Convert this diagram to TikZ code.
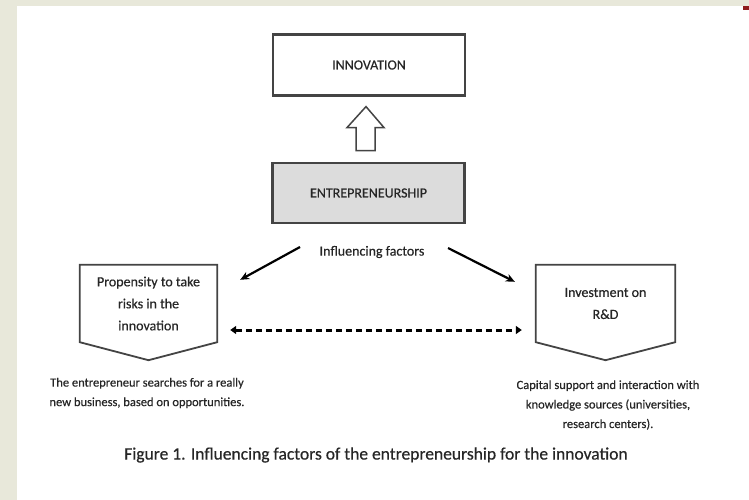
\documentclass[tikz,border=0pt]{standalone}
\usepackage{fontspec}
\setmainfont[FakeBold=0.4]{Carlito}
\usetikzlibrary{arrows.meta,calc}
\definecolor{pagebg}{HTML}{E8E8DA}
\definecolor{boxline}{HTML}{444444}
\definecolor{boxfill}{HTML}{DCDCDC}
\definecolor{inkgray}{HTML}{262626}
\definecolor{markred}{HTML}{8E1B1B}
\tikzset{
  mainbox/.style={draw=boxline,line width=2.2pt,minimum width=192pt,minimum height=61pt,font=\fontsize{14}{16}\selectfont,text=inkgray},
  factorbox/.style={minimum width=137pt,minimum height=77pt,inner sep=0pt,align=center,font=\fontsize{14}{22}\selectfont,text=inkgray},
  pentline/.style={draw=boxline,line width=1.8pt,line join=miter},
  note/.style={align=center,font=\fontsize{12.5}{19.5}\selectfont,text=inkgray},
  factarrow/.style={line width=2.2pt,-{Stealth[length=9pt,width=8pt]}},
  linkarrow/.style={line width=3pt,dash pattern=on 6.5pt off 3.5pt,{Triangle[length=6pt,width=8pt]}-{Triangle[length=6pt,width=8pt]}},
  hollow/.style={draw=boxline,line width=1.5pt,fill=white,line join=miter},
}

\begin{document}
\begin{tikzpicture}[x=1pt,y=-1pt]
  \useasboundingbox (0,0) rectangle (749,500);
  \fill[pagebg] (0,0) rectangle (749,500);
  \fill[white] (17,6) rectangle (749,500);
  \fill[markred] (743,6) rectangle (749,10);

  \node[mainbox] (innov) at (369,65) {INNOVATION};
  \node[mainbox,fill=boxfill,minimum height=60pt] (entre) at (368.5,193) {ENTREPRENEURSHIP};
  \draw[hollow] (innov.south) ++(-3,10) -- ++(18,21) -- ++(-9,0) -- ++(0,23)
    -- ++(-19,0) -- ++(0,-23) -- ++(-9,0) -- cycle;

  \node[font=\fontsize{14}{16}\selectfont,text=inkgray] (factors) at (372,252) {Influencing factors};

  \node[factorbox] (prop) at (148.5,303.5) {Propensity to take\\risks in the\\innovation};
  \node[factorbox,minimum width=139pt] (invest) at (605.5,303.5) {Investment on\\R\&D};
  \draw[pentline] (prop.north west) -- (prop.north east) -- (prop.south east)
    -- ($(prop.south)+(0,18)$) -- (prop.south west) -- cycle;
  \draw[pentline] (invest.north west) -- (invest.north east) -- (invest.south east)
    -- ($(invest.south)+(0,18)$) -- (invest.south west) -- cycle;

  \draw[factarrow] ([xshift=-72pt,yshift=5pt]factors.center) -- ([xshift=23pt,yshift=-15pt]prop.north east);
  \draw[factarrow] ([xshift=76pt,yshift=4pt]factors.center) -- ([xshift=-21pt,yshift=-17pt]invest.north west);
  \draw[linkarrow] ([xshift=13pt,yshift=-26.5pt]prop.east) -- ([xshift=-14pt,yshift=-26.5pt]invest.west);

  \node[note] (propnote) at (147,393) {The entrepreneur searches for a really\\new business, based on opportunities.};
  \node[note] (investnote) at (608,405) {Capital support and interaction with\\knowledge sources (universities,\\research centers).};

  \node[font=\fontsize{17.5}{20}\selectfont,text=inkgray] (caption) at (376,455)
    {Figure 1. Influencing factors of the entrepreneurship for the innovation};
\end{tikzpicture}
\end{document}
